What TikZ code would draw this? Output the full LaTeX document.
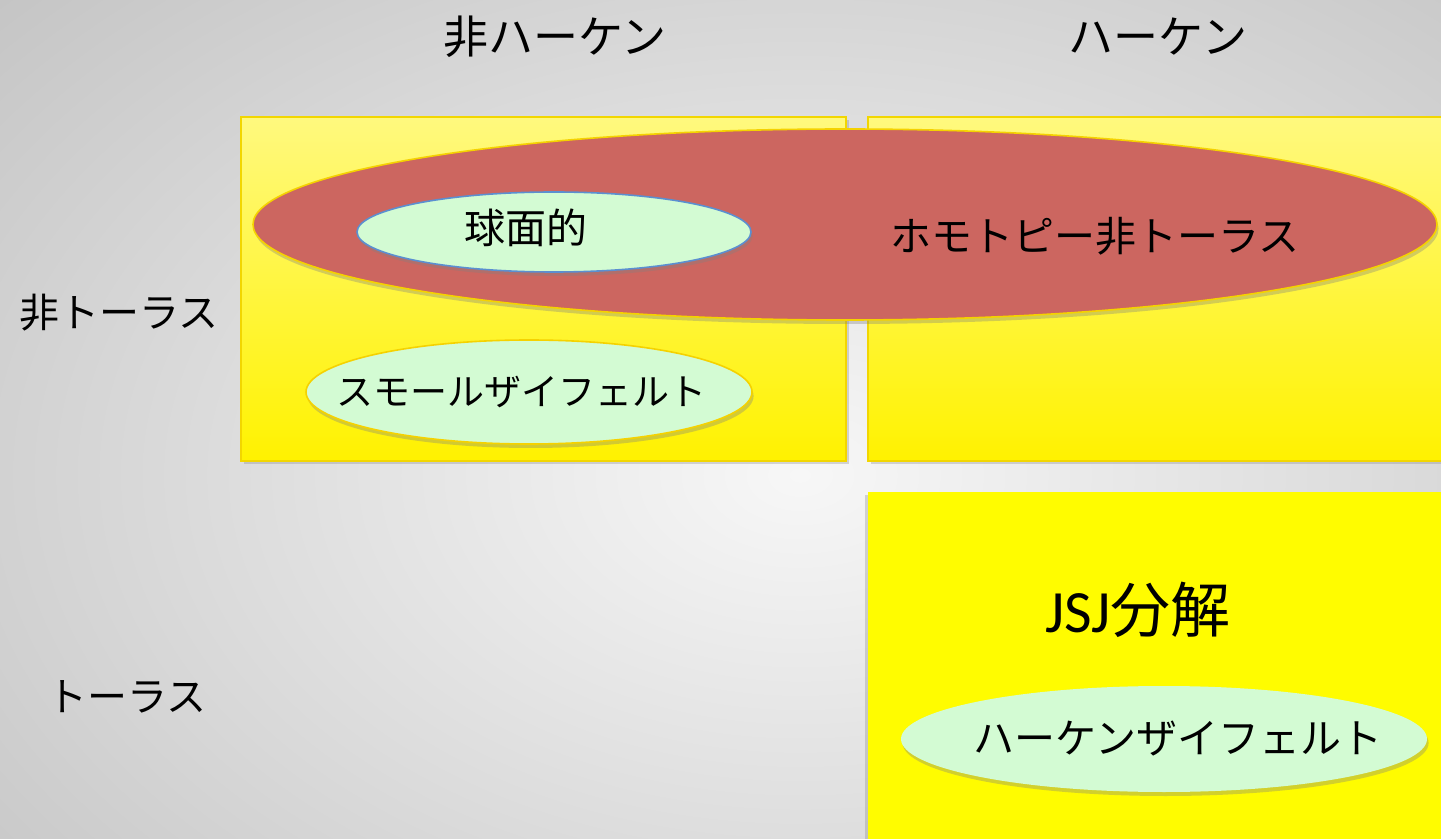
\documentclass[tikz,border=0pt]{standalone}
\usepackage{fontspec}
\setmainfont{Noto Sans CJK JP}
\newfontfamily\latinfont{Carlito}
\usetikzlibrary{shadows,shapes.geometric}
\definecolor{bgout}{HTML}{C4C4C4}
\definecolor{bgin}{HTML}{F7F7F7}
\definecolor{boxtop}{HTML}{FFF97E}
\definecolor{boxbot}{HTML}{FFF200}
\definecolor{boxline}{HTML}{F2D600}
\definecolor{redfill}{HTML}{CC6660}
\definecolor{greenfill}{HTML}{D3FBD3}
\definecolor{blueline}{HTML}{5B8FD0}
\definecolor{yellowline}{HTML}{F5D200}
\definecolor{solidyellow}{HTML}{FFFC00}
\tikzset{
  panel/.style={draw=boxline, line width=1.2pt, top color=boxtop, bottom color=boxbot,
    drop shadow={opacity=0.3, shadow xshift=1.5pt, shadow yshift=-1.5pt}},
  solidpanel/.style={fill=solidyellow, draw=none,
    drop shadow={opacity=0.3, shadow xshift=-1.5pt, shadow yshift=-1.5pt}},
  oval/.style={ellipse, inner sep=0pt, line width=0.8pt,
    drop shadow={opacity=0.35, shadow xshift=0.8pt, shadow yshift=-2pt}},
  lbl/.style={inner sep=0pt, text=black},
}
\begin{document}
\begin{tikzpicture}[x=0.5pt,y=-0.5pt]
\useasboundingbox (0,0) rectangle (1441,839);
\clip (0,0) rectangle (1441,839);
\shade[inner color=bgin, outer color=bgout] (-300,-250) rectangle (1900,1200);
% panels
\path[panel] (241,117) rectangle (846,461);
\path[panel] (868,117) rectangle (1460,461);
\path[solidpanel] (868,492) rectangle (1460,860);
% big red ellipse
\node[oval, draw=yellowline, fill=redfill, minimum width=592pt, minimum height=95.5pt] (homo) at (845,224.5) {};
% small ellipses
\node[oval, draw=blueline, fill=greenfill, minimum width=197pt, minimum height=40pt] (sph) at (554,232) {};
\node[oval, draw=yellowline, fill=greenfill, minimum width=223pt, minimum height=52pt] (small) at (529,392) {};
\node[oval, draw=none, fill=greenfill, minimum width=263pt, minimum height=53pt] (haken) at (1164,739) {};
% texts
\node[lbl, font=\fontsize{22.5}{26}\selectfont] (hnh) at (555,37) {非ハーケン};
\node[lbl, font=\fontsize{22.5}{26}\selectfont] (hh) at (1158,37) {ハーケン};
\node[lbl, font=\fontsize{20}{24}\selectfont] (hnt) at (119,313) {非トーラス};
\node[lbl, font=\fontsize{20}{24}\selectfont] (ht) at (127,697) {トーラス};
\node[lbl, font=\fontsize{20.5}{24}\selectfont] (thomo) at (1095,236) {ホモトピー非トーラス};
\node[lbl, font=\fontsize{20.5}{24}\selectfont] (tsph) at (526,228) {球面的};
\node[lbl, font=\fontsize{18.5}{22}\selectfont] (tsmall) at (521,392) {スモールザイフェルト};
\node[lbl, font=\fontsize{30}{34}\selectfont] (tjsj) at (1138,610) {{\latinfont JSJ}分解};
\node[lbl, font=\fontsize{20.5}{24}\selectfont] (thaken) at (1178,739) {ハーケンザイフェルト};
\end{tikzpicture}
\end{document}
